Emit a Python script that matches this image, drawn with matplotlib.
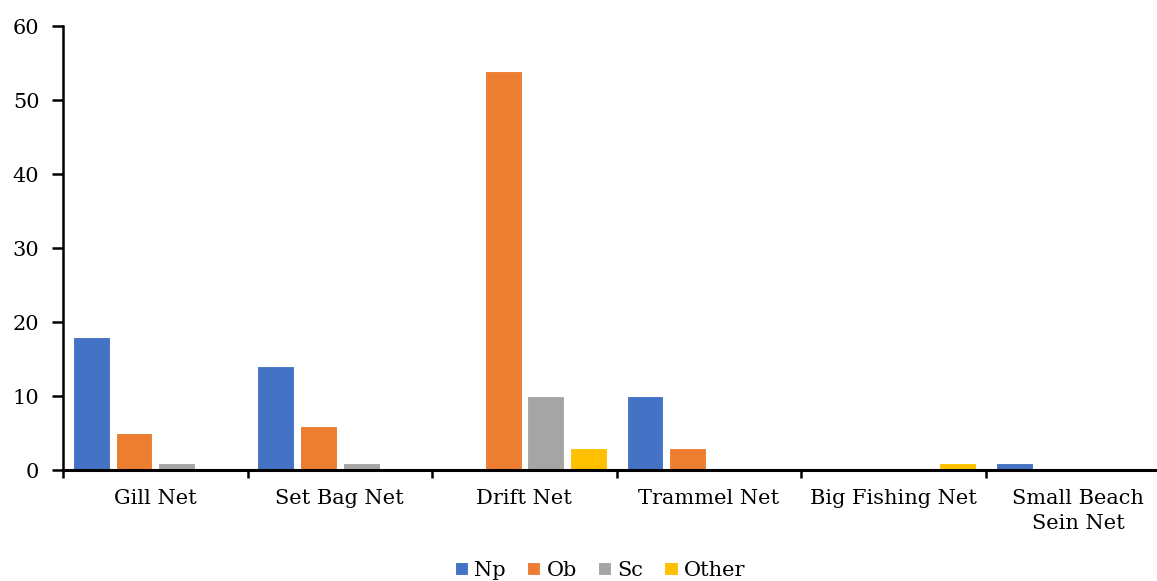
import numpy as np
import matplotlib
matplotlib.use('Agg')
import matplotlib.pyplot as plt

plt.rcParams['font.family'] = ['DejaVu Serif']

# catch counts per gear type
gears = ['Gill Net', 'Set Bag Net', 'Drift Net', 'Trammel Net',
         'Big Fishing Net', 'Small Beach\nSein Net']
series_names = ['Np', 'Ob', 'Sc', 'Other']
np_vals = [18, 14, 0, 10, 0, 1]
ob_vals = [5, 6, 54, 3, 0, 0]
sc_vals = [1, 1, 10, 0, 0, 0]
other_vals = [0, 0, 3, 0, 1, 0]
colors = ['#4472C4', '#ED7D31', '#A5A5A5', '#FFC000']

fig = plt.figure(figsize=(11.57, 5.81), dpi=100)
ax = fig.add_axes([0.0545, 0.191, 0.957, 0.764])

x = np.arange(len(gears))
step = 0.231
width = 0.2
for i, (name, vals, c) in enumerate(zip(series_names,
                                        [np_vals, ob_vals, sc_vals, other_vals],
                                        colors)):
    ax.bar(x + (i - 1.5) * step, vals, width, color=c, label=name,
           edgecolor='white', linewidth=0.8, zorder=2)

ax.set_xlim(-0.5, len(gears) - 0.5)
ax.set_ylim(0, 60)
ax.set_yticks(range(0, 61, 10))

# category labels at group centres, tick marks on group boundaries
ax.set_xticks(x)
ax.set_xticklabels(gears, fontsize=15, linespacing=1.35)
ax.set_xticks(np.arange(len(gears) + 1) - 0.5, minor=True)
ax.tick_params(axis='x', which='major', length=0, pad=14)
ax.tick_params(axis='x', which='minor', length=6, width=1.8, direction='out')
ax.tick_params(axis='y', length=8, width=1.8, direction='out', labelsize=15, pad=9)

for side in ['top', 'right']:
    ax.spines[side].set_visible(False)
ax.spines['left'].set_linewidth(1.8)
ax.spines['bottom'].set_linewidth(2.2)
ax.spines['bottom'].set_zorder(3)

ax.legend(loc='center', bbox_to_anchor=(0.485, -0.226), ncol=4,
          frameon=False, fontsize=15, handlelength=0.65, handleheight=0.65,
          handletextpad=0.3, columnspacing=1.0, borderpad=0)

fig.savefig('out.png', dpi=100)
